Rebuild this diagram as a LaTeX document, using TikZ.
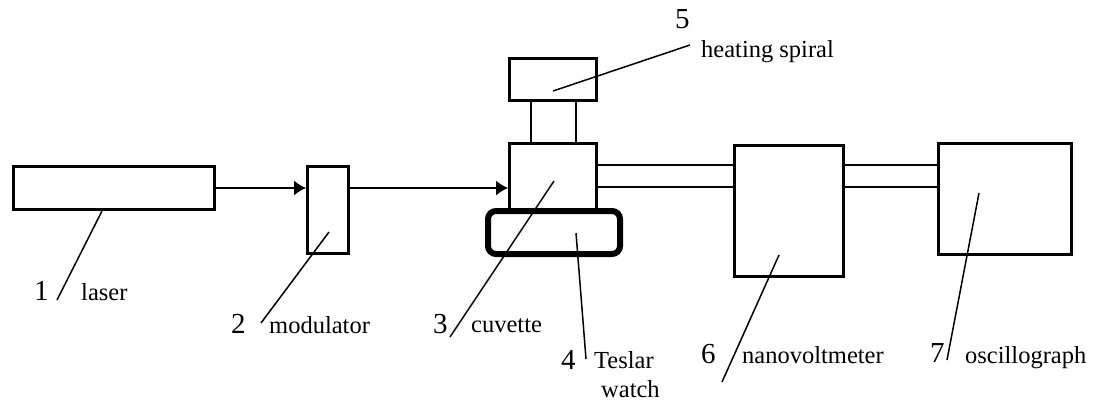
\documentclass[tikz,border=0pt]{standalone}
\usepackage{fontspec}
\setmainfont{Liberation Serif}
\usetikzlibrary{arrows.meta}
\begin{document}
\begin{tikzpicture}[x=1pt,y=-1pt,
  box/.style={draw,line width=3pt,inner sep=0pt,minimum width=#1},
  wire/.style={line width=1.4pt},
  leader/.style={line width=1.5pt},
  arr/.style={line width=1.3pt,-{Latex[length=12pt,width=15pt]}},
  num/.style={anchor=base west,inner sep=0pt,font=\fontsize{29}{29}\selectfont},
  lab/.style={anchor=base west,inner sep=0pt,font=\fontsize{24.5}{24.5}\selectfont}]
\useasboundingbox (0,0) rectangle (1094,402);
% devices
\node[box=201pt,minimum height=43pt] (laser) at (114,188) {};
\node[box=41pt,minimum height=87pt] (mod) at (328,210) {};
\node[box=87pt,minimum height=42pt] (heat) at (553,79.5) {};
\node[box=87pt,minimum height=66pt] (cuv) at (553,176) {};
\node[draw,line width=6pt,inner sep=0pt,minimum width=132pt,minimum height=43pt,rounded corners=8pt,fill=white] (tes) at (554,232.5) {};
\node[box=109pt,minimum height=131pt] (nv) at (789,211) {};
\node[box=133pt,minimum height=111pt] (osc) at (1005,199) {};
% connectors
\draw[arr] (laser.east) -- (laser.east -| mod.west);
\draw[arr] (mod.east |- 0,188) -- (cuv.west |- 0,188);
\draw[wire] (heat.south -| 531,0) -- (cuv.north -| 531,0);
\draw[wire] (heat.south -| 576,0) -- (cuv.north -| 576,0);
\draw[wire] (cuv.east |- 0,165) -- (nv.west |- 0,165);
\draw[wire] (cuv.east |- 0,187) -- (nv.west |- 0,187);
\draw[wire] (nv.east |- 0,165) -- (osc.west |- 0,165);
\draw[wire] (nv.east |- 0,187) -- (osc.west |- 0,187);
% leader coordinates
\coordinate (p1) at (102,211);  \coordinate (e1) at (57,300);
\coordinate (p2) at (329,232);  \coordinate (e2) at (261,323);
\coordinate (p3) at (554,181);  \coordinate (e3) at (450,337);
\coordinate (p4) at (576,233);  \coordinate (e4) at (586,359);
\coordinate (p5) at (553,91);   \coordinate (e5) at (690,45);
\coordinate (p6) at (779,255);  \coordinate (e6) at (722,382);
\coordinate (p7) at (979,193);  \coordinate (e7) at (947,360);
\foreach \i in {1,...,7} \draw[leader] (p\i) -- (e\i);
% labels
\node[num] (n1) at (34,300) {1};
\node[lab] (t1) at (81,300) {laser};
\node[num] (n2) at (231,333) {2};
\node[lab] (t2) at (269,333) {modulator};
\node[num] (n3) at (433,333) {3};
\node[lab] (t3) at (471,332) {cuvette};
\node[num] (n4) at (561,369) {4};
\node[lab] (t4a) at (594,368) {Teslar};
\node[lab] (t4b) at (601,397) {watch};
\node[num] (n5) at (675,28) {5};
\node[lab] (t5) at (701,57) {heating spiral};
\node[num] (n6) at (701,363) {6};
\node[lab] (t6) at (742,363) {nanovoltmeter};
\node[num] (n7) at (930,362) {7};
\node[lab] (t7) at (965,363) {oscillograph};
\end{tikzpicture}
\end{document}
